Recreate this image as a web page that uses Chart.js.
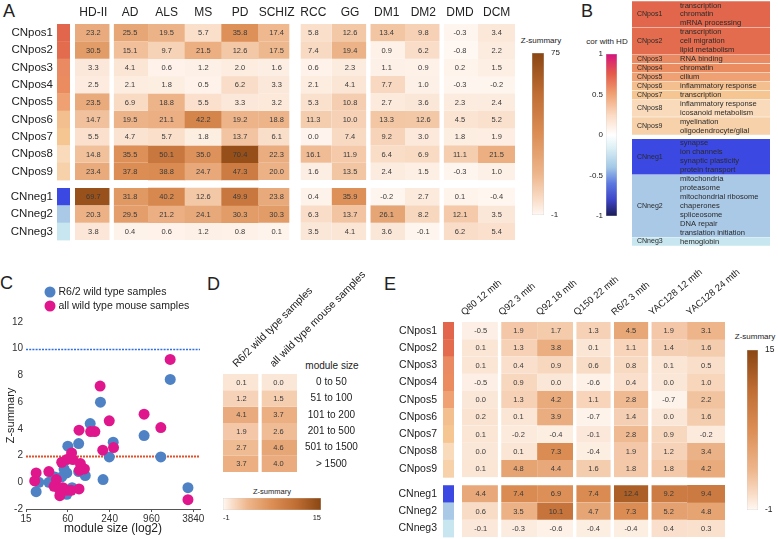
<!DOCTYPE html>
<html>
<head>
<meta charset="utf-8">
<title>Module preservation panels</title>
<script src="https://cdn.jsdelivr.net/npm/chart.js@4.4.1/dist/chart.umd.min.js"></script>
<style>
  body { margin: 0; background: #fff; }
  #fig { position: relative; width: 778px; height: 539px; overflow: hidden;
         font-family: "Liberation Sans", Arial, sans-serif; color: #222; }
  #fig canvas { position: absolute; }
  .txt { position: absolute; white-space: nowrap; line-height: 1; }
  .mid { transform: translate(-50%, -50%); }
  .letter { font-size: 18px; }
</style>
</head>
<body>
<div id="fig">
  <div class="txt letter" style="left:3px;top:2px">A</div>
  <div class="txt letter" style="left:581px;top:2px">B</div>
  <div class="txt letter" style="left:0px;top:274px">C</div>
  <div class="txt letter" style="left:207px;top:275px">D</div>
  <div class="txt letter" style="left:384px;top:275px">E</div>
  <div class="txt mid" style="left:541px;top:41px;font-size:8px">Z-summary</div>
  <div class="txt mid" style="left:607px;top:42px;font-size:8px">cor with HD</div>
  <div class="txt mid" style="left:332px;top:366px;font-size:10px">module size</div>
  <div class="txt mid" style="left:272px;top:492px;font-size:7.5px">Z-summary</div>
  <div class="txt mid" style="left:755px;top:337px;font-size:8px">Z-summary</div>

  <canvas id="heatA" width="520" height="245" style="left:0;top:0"></canvas>
  <canvas id="barA" width="40" height="178" style="left:532px;top:45px"></canvas>
  <canvas id="barB" width="39" height="178" style="left:578px;top:46px"></canvas>
  <canvas id="tableB" width="138" height="245" style="left:632px;top:1px"></canvas>
  <canvas id="scatterC" width="210" height="259" style="left:0;top:280px"></canvas>
  <canvas id="heatD" width="180" height="205" style="left:200px;top:270px"></canvas>
  <canvas id="barD" width="115" height="40" style="left:215px;top:485px"></canvas>
  <canvas id="heatE" width="385" height="277" style="left:380px;top:262px"></canvas>
  <canvas id="barE" width="31" height="176" style="left:747px;top:342px"></canvas>
</div>

<script>
Chart.defaults.font.family = '"Liberation Sans", Arial, sans-serif';
Chart.defaults.color = "#222";
Chart.defaults.animation = false;

// ═══════════════════════════════════════
// DATA
// ═══════════════════════════════════════
const modules = ["CNpos1", "CNpos2", "CNpos3", "CNpos4", "CNpos5", "CNpos6", "CNpos7", "CNpos8", "CNpos9",
                 "CNneg1", "CNneg2", "CNneg3"];
const moduleColors = ["#e2664b", "#e36c4e", "#e98a62", "#ea8c60", "#efa173", "#f4bf8e", "#f5c592", "#f9dbbb",
                      "#f6d1a9", "#3c48e2", "#a9c9e7", "#c8e6ef"];

// panel A: Z-summary per disease data set (rows follow `modules`)
const diseases = ["HD-II", "AD", "ALS", "MS", "PD", "SCHIZ", "RCC", "GG", "DM1", "DM2", "DMD", "DCM"];
const zHD2  = [23.2, 30.5, 3.3, 2.5, 23.5, 14.7, 5.5, 14.8, 23.4, 69.7, 20.3, 3.8];
const zAD   = [25.5, 15.1, 4.1, 2.1, 6.9, 19.5, 4.7, 35.5, 37.8, 31.8, 29.5, 0.4];
const zALS  = [19.5, 9.7, 0.6, 1.8, 18.8, 21.1, 5.7, 50.1, 38.8, 40.2, 21.2, 0.6];
const zMS   = [5.7, 21.5, 1.2, 0.5, 5.5, 42.2, 1.8, 35.0, 24.7, 12.6, 24.1, 1.2];
const zPD   = [35.8, 12.6, 2.0, 6.2, 3.3, 19.2, 13.7, 70.4, 47.3, 49.9, 30.3, 0.8];
const zSCHIZ = [17.4, 17.5, 1.6, 3.3, 3.2, 18.8, 6.1, 22.3, 20.0, 23.8, 30.3, 0.1];
const zRCC  = [5.8, 7.4, 0.6, 2.1, 5.3, 11.3, 0.0, 16.1, 1.6, 0.4, 6.3, 3.5];
const zGG   = [12.6, 19.4, 2.3, 4.1, 10.8, 10.0, 7.4, 11.9, 13.5, 35.9, 13.7, 4.1];
const zDM1  = [13.4, 0.9, 1.1, 7.7, 2.7, 13.3, 9.2, 6.4, 2.4, -0.2, 26.1, 3.6];
const zDM2  = [9.8, 6.2, 0.9, 1.0, 3.6, 12.6, 3.0, 6.9, 1.5, 2.7, 8.2, -0.1];
const zDMD  = [-0.3, -0.8, 0.2, -0.3, 2.3, 4.5, 1.8, 11.1, -0.3, 0.1, 12.1, 6.2];
const zDCM  = [3.4, 2.2, 1.5, -0.2, 2.4, 5.2, 1.9, 21.5, 1.0, -0.4, 3.5, 5.4];
const zRangeA = [-1, 75];

// panel B: enriched terms per module, correlation colour key
const moduleTerms = [
  ["transcription", "chromatin", "mRNA processing"],
  ["transcription", "cell migration", "lipid metabolism"],
  ["RNA binding"],
  ["chromatin"],
  ["cilium"],
  ["inflammatory response"],
  ["transcription"],
  ["inflammatory response", "icosanoid metabolism"],
  ["myelination", "oligodendrocyte/glial"],
  ["synapse", "ion channels", "synaptic plasticity", "protein transport"],
  ["mitochondria", "proteasome", "mitochondrial ribosome", "chaperones", "spliceosome", "DNA repair", "translation initiation"],
  ["hemoglobin"],
];
const corTicks = [-1, -0.5, 0, 0.5, 1];

// panel C: module size vs Z-summary
const r62Size = [21, 23, 32, 39, 49, 53, 58, 60, 58, 69, 86, 86, 107, 126, 177, 193, 237, 270, 752, 1310, 1790, 3220];
const r62Z    = [-0.7, 0.0, 0.0, 0.4, 0.4, 1.0, 0.7, 2.7, -0.9, -0.4, 2.9, 0.8, 0.5, 4.4, 6.0, 0.2, 1.9, 3.0, 3.5, 1.9, 7.7, -0.4];
const wtSize  = [20, 21, 32, 38, 41, 45, 46, 49, 51, 58, 58, 67, 68, 71, 87, 87, 88, 91, 104, 128, 147, 175, 191, 237, 273, 752, 1310, 1786, 3220];
const wtZ     = [0.1, 0.7, 0.8, -0.3, 0.2, -0.5, -1.0, 1.5, -0.4, 1.7, -0.6, -0.6, 2.2, 1.7, 3.9, -0.5, 0.9, 1.4, 1.0, 3.8, 3.8, 7.2, 2.4, 4.6, 2.6, 5.1, 4.1, 9.2, -1.3];
const sizeTicks = [15, 60, 240, 960, 3840];
const zThresholds = [10, 2];

// panel D: Z-summary by module size bin
const sampleSets = ["R6/2 wild type samples", "all wild type mouse samples"];
const sizeBins = ["0 to 50", "51 to 100", "101 to 200", "201 to 500", "501 to 1500", "> 1500"];
const zR62wt = [0.1, 1.2, 4.1, 1.9, 2.7, 3.7];
const zAllWt = [0.0, 1.5, 3.7, 2.6, 4.6, 4.0];
const zRangeD = [-1, 15];

// panel E: Z-summary in mouse models (rows follow `modules`)
const mouseModels = ["Q80 12 mth", "Q92 3 mth", "Q92 18 mth", "Q150 22 mth", "R6/2 3 mth", "YAC128 12 mth", "YAC128 24 mth"];
const zQ80m12  = [-0.5, 0.1, 0.1, -0.5, 0.0, 0.2, 0.1, 0.0, 0.1, 4.4, 0.6, -0.1];
const zQ92m3   = [1.9, 1.3, 0.4, 0.9, 1.3, 0.1, -0.2, 0.1, 4.8, 7.4, 3.5, -0.3];
const zQ92m18  = [1.7, 3.8, 0.9, 0.0, 4.2, 3.9, -0.4, 7.3, 4.4, 6.9, 10.1, -0.6];
const zQ150m22 = [1.3, 0.1, 0.6, -0.6, 1.1, -0.7, -0.1, -0.4, 1.6, 7.4, 4.7, -0.4];
const zR62m3   = [4.5, 1.1, 0.8, 0.4, 2.8, 1.4, 2.8, 1.9, 1.8, 12.4, 7.3, -0.4];
const zYACm12  = [1.9, 1.4, 0.1, 0.0, -0.7, 0.0, 0.9, 1.2, 1.8, 9.2, 5.2, 0.4];
const zYACm24  = [3.1, 1.6, 0.5, 1.0, 2.2, 1.6, -0.2, 3.4, 4.2, 9.4, 4.8, 0.3];
const zRangeE = [-1, 15];

// ═══════════════════════════════════════
// COLOURS
// ═══════════════════════════════════════
const heatStops = [[0, "#fff8f3"], [0.1, "#f9dcc6"], [0.25, "#eeb68c"], [0.5, "#dc8e55"], [0.75, "#bf6d33"], [1, "#8a4612"]];
const corStops = [[0, "#1b1b55"], [0.1, "#3d45c8"], [0.2, "#5c78e0"], [0.3, "#a3c8e6"], [0.42, "#dcf0f5"], [0.5, "#ffffff"],
                  [0.62, "#fbdcc4"], [0.75, "#f0a274"], [0.88, "#e45a4a"], [1, "#d6137f"]];

function hexRgb(h) { const n = parseInt(h.slice(1), 16); return [(n >> 16) & 255, (n >> 8) & 255, n & 255]; }
function ramp(stops, t) {
  t = Math.max(0, Math.min(1, t));
  for (let k = 1; k < stops.length; k++) {
    if (t <= stops[k][0]) {
      const [t0, c0] = stops[k - 1], [t1, c1] = stops[k];
      const f = (t - t0) / (t1 - t0), a = hexRgb(c0), b = hexRgb(c1);
      return `rgb(${a.map((x, i) => Math.round(x + (b[i] - x) * f)).join(",")})`;
    }
  }
  return stops[stops.length - 1][1];
}

// ═══════════════════════════════════════
// PLUGINS
// ═══════════════════════════════════════
const FONT = '"Liberation Sans", Arial, sans-serif';

// numbers printed in the middle of every heat cell
const cellValues = {
  id: "cellValues",
  afterDatasetsDraw(chart, args, opts) {
    const ctx = chart.ctx;
    ctx.save();
    ctx.font = `${opts.size}px ${FONT}`;
    ctx.fillStyle = opts.color;
    ctx.textAlign = "center";
    ctx.textBaseline = "middle";
    chart.data.datasets.forEach((ds, i) => {
      chart.getDatasetMeta(i).data.forEach((bar, j) => {
        ctx.fillText(ds.values[j].toFixed(1), bar.x, (bar.y + bar.base) / 2 + 0.5);
      });
    });
    ctx.restore();
  }
};

// coloured module strip left of the heat cells
const moduleStrip = {
  id: "moduleStrip",
  beforeDatasetsDraw(chart, args, opts) {
    if (!opts.colors) return;
    const { ctx, chartArea } = chart;
    chart.data.datasets.forEach((ds, i) => {
      const bar = chart.getDatasetMeta(i).data[0];
      const top = Math.min(bar.y, bar.base), bot = Math.max(bar.y, bar.base);
      ctx.fillStyle = opts.colors[i];
      ctx.fillRect(chartArea.left - opts.offset, top, opts.width, bot - top + 0.4);
    });
  }
};

// module names and GO terms in panel B
const termText = {
  id: "termText",
  afterDatasetsDraw(chart, args, opts) {
    const { ctx, chartArea } = chart;
    ctx.save();
    ctx.textBaseline = "middle";
    ctx.fillStyle = opts.color;
    chart.data.datasets.forEach((ds, i) => {
      const bar = chart.getDatasetMeta(i).data[0];
      const top = Math.min(bar.y, bar.base), bot = Math.max(bar.y, bar.base);
      const lh = (bot - top) / ds.terms.length;
      ctx.font = `${opts.nameSize}px ${FONT}`;
      ctx.fillText(ds.label, chartArea.left + opts.nameX, (top + bot) / 2);
      ctx.font = `${opts.termSize}px ${FONT}`;
      ds.terms.forEach((t, k) => ctx.fillText(t, chartArea.left + opts.termX, top + lh * (k + 0.5)));
    });
    ctx.restore();
  }
};

// dotted threshold lines in panel C
const refLines = {
  id: "refLines",
  beforeDatasetsDraw(chart, args, opts) {
    const { ctx, chartArea, scales: { y } } = chart;
    ctx.save();
    opts.lines.forEach(l => {
      const py = Math.round(y.getPixelForValue(l.value)) + 0.5;
      ctx.strokeStyle = l.color;
      ctx.lineWidth = l.width;
      ctx.setLineDash(l.dash);
      ctx.beginPath();
      ctx.moveTo(chartArea.left, py);
      ctx.lineTo(chartArea.right, py);
      ctx.stroke();
    });
    ctx.restore();
  }
};

// stacked dot legend above panel C
const dotLegend = {
  id: "dotLegend",
  afterDraw(chart, args, opts) {
    const ctx = chart.ctx;
    ctx.save();
    ctx.font = `${opts.size}px ${FONT}`;
    ctx.textBaseline = "middle";
    chart.data.datasets.forEach((ds, i) => {
      const cy = opts.y + i * opts.step;
      ctx.fillStyle = ds.backgroundColor;
      ctx.beginPath();
      ctx.arc(opts.x, cy, opts.radius, 0, Math.PI * 2);
      ctx.fill();
      ctx.fillStyle = "#222";
      ctx.fillText(ds.label, opts.x + opts.radius + 3, cy + 0.5);
    });
    ctx.restore();
  }
};

// ═══════════════════════════════════════
// BUILDERS
// ═══════════════════════════════════════
function heatmap(id, o) {
  const nRows = o.rows.length;
  const rowPos = i => i + (i >= o.split ? o.rowGap : 0);
  const yMax = nRows + (o.split < nRows ? o.rowGap : 0);
  const gap = j => o.colGaps[j] || 0;

  const datasets = o.rows.map((name, i) => {
    const vals = o.values.map(col => col[i]);
    return {
      label: name,
      values: vals,
      data: vals.map(() => [rowPos(i), rowPos(i) + 1]),
      backgroundColor: vals.map(v => ramp(heatStops, (v - o.range[0]) / (o.range[1] - o.range[0]))),
      borderColor: "#ffffff",
      borderWidth: ctx => ({ top: 0, bottom: 0,
        left: ctx.dataIndex > 0 ? gap(ctx.dataIndex - 1) / 2 : 0,
        right: gap(ctx.dataIndex) / 2 }),
      borderSkipped: false,
      inflateAmount: 0.3,
      grouped: false, barPercentage: 1, categoryPercentage: 1,
    };
  });

  return new Chart(document.getElementById(id), {
    type: "bar",
    data: { labels: o.cols, datasets },
    plugins: [cellValues, moduleStrip],
    options: {
      responsive: false, events: [],
      layout: { padding: o.pad },
      plugins: {
        legend: { display: false }, tooltip: { enabled: false },
        cellValues: { size: o.cellFont, color: "#3a3a3a" },
        moduleStrip: o.strip || {},
      },
      scales: {
        x: {
          position: "top",
          grid: { display: false, drawTicks: false }, border: { display: false },
          ticks: { autoSkip: false, font: { size: o.colFont }, color: "#222", padding: o.colPad,
                   minRotation: o.rot, maxRotation: o.rot, labelOffset: o.labelOffset || 0 },
          afterFit: s => { s.height = o.xH; s.paddingLeft = 0; s.paddingRight = 0; },
        },
        y: {
          type: "linear", position: o.yPos || "left", reverse: true, min: 0, max: yMax,
          grid: { display: false, drawTicks: false }, border: { display: false },
          ticks: { autoSkip: false, font: { size: o.rowFont }, color: "#222", padding: o.rowPad,
                   crossAlign: o.crossAlign || "near", callback: (v, k) => o.rows[k] },
          afterBuildTicks: s => { s.ticks = o.rows.map((r, i) => ({ value: rowPos(i) + 0.5 })); },
          afterFit: s => { s.width = o.yW; s.paddingTop = 0; s.paddingBottom = 0; },
        },
      },
    },
  });
}

function colorbar(id, o) {
  const horiz = !!o.horizontal;
  const valueAxis = horiz ? "x" : "y";
  const indexAxis = horiz ? "y" : "x";
  const fill = ctx => {
    const area = ctx.chart.chartArea;
    if (!area) return "#ffffff";
    const g = horiz
      ? ctx.chart.ctx.createLinearGradient(area.left, 0, area.right, 0)
      : ctx.chart.ctx.createLinearGradient(0, area.bottom, 0, area.top);
    o.stops.forEach(([t, c]) => g.addColorStop(t, c));
    return g;
  };
  return new Chart(document.getElementById(id), {
    type: "bar",
    data: { labels: [""], datasets: [{
      data: [[o.range[0], o.range[1]]], backgroundColor: fill,
      borderColor: "#c9c9c9", borderWidth: 0.6, borderSkipped: false,
      barPercentage: 1, categoryPercentage: 1,
    }] },
    options: {
      indexAxis, responsive: false, events: [],
      layout: { padding: o.pad },
      plugins: { legend: { display: false }, tooltip: { enabled: false } },
      scales: {
        [indexAxis]: { display: false },
        [valueAxis]: {
          type: "linear", position: o.axisPos, min: o.range[0], max: o.range[1],
          grid: { display: false, drawTicks: false }, border: { display: false },
          ticks: { font: { size: o.fontSize }, color: "#222", padding: o.tickPad, align: o.align || "center",
                   callback: v => String(v) },
          afterBuildTicks: s => { s.ticks = o.ticks.map(v => ({ value: v })); },
          afterFit: s => {
            if (horiz) { s.height = o.axisSize; s.paddingLeft = 0; s.paddingRight = 0; }
            else { s.width = o.axisSize; s.paddingTop = 0; s.paddingBottom = 0; }
          },
        },
      },
    },
  });
}

// ═══════════════════════════════════════
// PANEL A
// ═══════════════════════════════════════
heatmap("heatA", {
  cols: diseases, rows: modules,
  values: [zHD2, zAD, zALS, zMS, zPD, zSCHIZ, zRCC, zGG, zDM1, zDM2, zDMD, zDCM],
  range: zRangeA, split: 9, rowGap: 0.46,
  colGaps: [5, 0, 0, 0, 0, 12, 0, 5, 0, 5, 0],
  pad: { left: 0, right: 5, top: 0, bottom: 5 },
  yW: 75, xH: 24, rowFont: 11.5, rowPad: 22, colFont: 12, colPad: 4, rot: 0, cellFont: 7.5,
  strip: { colors: moduleColors, offset: 18, width: 13 },
});
colorbar("barA", { range: zRangeA, ticks: zRangeA, stops: heatStops, axisPos: "right", axisSize: 28,
                   pad: { left: 0, right: 0, top: 8, bottom: 8 }, fontSize: 8, tickPad: 7 });

// ═══════════════════════════════════════
// PANEL B
// ═══════════════════════════════════════
colorbar("barB", { range: [-1, 1], ticks: corTicks, stops: corStops, axisPos: "left", axisSize: 28,
                   pad: { left: 0, right: 0, top: 8, bottom: 8 }, fontSize: 8, tickPad: 3 });

(function () {
  const gapLines = 0.45;
  let start = 0;
  const datasets = modules.map((name, i) => {
    if (i === 9) start += gapLines;
    const n = moduleTerms[i].length;
    const ds = {
      label: name, terms: moduleTerms[i],
      data: [[start, start + n]],
      backgroundColor: moduleColors[i],
      borderColor: "rgba(255,255,255,0.55)",
      borderWidth: { top: 0.5, bottom: 0.5, left: 0, right: 0 }, borderSkipped: false,
      grouped: false, barPercentage: 1, categoryPercentage: 1,
    };
    start += n;
    return ds;
  });
  new Chart(document.getElementById("tableB"), {
    type: "bar",
    data: { labels: [""], datasets },
    plugins: [termText],
    options: {
      responsive: false, events: [],
      layout: { padding: 0 },
      plugins: { legend: { display: false }, tooltip: { enabled: false },
                 termText: { color: "#2a2a2a", nameSize: 7, termSize: 7.6, nameX: 5, termX: 48 } },
      scales: {
        x: { display: false },
        y: { display: false, type: "linear", reverse: true, min: 0, max: start },
      },
    },
  });
})();

// ═══════════════════════════════════════
// PANEL C
// ═══════════════════════════════════════
new Chart(document.getElementById("scatterC"), {
  type: "scatter",
  data: {
    datasets: [
      { label: "R6/2 wild type samples", data: r62Size.map((s, i) => ({ x: s, y: r62Z[i] })),
        backgroundColor: "#4f82c5", pointRadius: 5.5, borderWidth: 0, order: 1 },
      { label: "all wild type mouse samples", data: wtSize.map((s, i) => ({ x: s, y: wtZ[i] })),
        backgroundColor: "#e0178c", pointRadius: 5.5, borderWidth: 0, order: 0 },
    ],
  },
  plugins: [refLines, dotLegend],
  options: {
    responsive: false, events: [],
    layout: { padding: { left: 0, right: 10, top: 42, bottom: 0 } },
    plugins: {
      legend: { display: false }, tooltip: { enabled: false },
      refLines: { lines: [
        { value: zThresholds[0], color: "#2f6fe0", width: 1.4, dash: [2, 1.2] },
        { value: zThresholds[1], color: "#e0502a", width: 2, dash: [2, 1] },
      ] },
      dotLegend: { x: 50, y: 12, step: 14, radius: 5.5, size: 10.5 },
    },
    scales: {
      x: {
        type: "logarithmic", min: 15, max: 4800,
        grid: { display: true, drawOnChartArea: false, drawTicks: true, tickLength: 3, color: "#555" },
        border: { display: true, color: "#555", width: 1 },
        ticks: { font: { size: 10 }, color: "#333", padding: 1, autoSkip: false, maxRotation: 0,
                 callback: v => String(v) },
        afterBuildTicks: s => { s.ticks = sizeTicks.map(v => ({ value: v })); },
        title: { display: true, text: "module size (log2)", font: { size: 12 }, color: "#222",
                 padding: { top: 0, bottom: 3 } },
        afterFit: s => { s.height = 30; s.paddingLeft = 0; s.paddingRight = 0; },
      },
      y: {
        min: -2, max: 12,
        grid: { display: false, drawTicks: false }, border: { display: false },
        ticks: { stepSize: 2, font: { size: 10 }, color: "#333", padding: 3 },
        title: { display: true, text: "Z-summary", font: { size: 11 }, color: "#222",
                 padding: { top: 4, bottom: 0 } },
        afterFit: s => { s.width = 26; s.paddingTop = 0; s.paddingBottom = 0; },
      },
    },
  },
});

// ═══════════════════════════════════════
// PANEL D
// ═══════════════════════════════════════
heatmap("heatD", {
  cols: sampleSets, rows: sizeBins,
  values: [zR62wt, zAllWt],
  range: zRangeD, split: sizeBins.length, rowGap: 0,
  colGaps: [4],
  pad: { left: 23, right: 13, top: 0, bottom: 3 },
  yPos: "right", crossAlign: "center",
  yW: 70, xH: 104, rowFont: 10, rowPad: 8, colFont: 10.5, colPad: 4, rot: 45, labelOffset: 2, cellFont: 7.5,
});
colorbar("barD", { horizontal: true, range: zRangeD, ticks: zRangeD, stops: heatStops, axisPos: "bottom",
                   axisSize: 15, align: "inner", pad: { left: 8, right: 9, top: 13, bottom: 0 },
                   fontSize: 7.5, tickPad: 3 });

// ═══════════════════════════════════════
// PANEL E
// ═══════════════════════════════════════
heatmap("heatE", {
  cols: mouseModels, rows: modules,
  values: [zQ80m12, zQ92m3, zQ92m18, zQ150m22, zR62m3, zYACm12, zYACm24],
  range: zRangeE, split: 9, rowGap: 0.46,
  colGaps: [4, 0, 4, 4, 4, 0],
  pad: { left: 0, right: 40, top: 0, bottom: 2 },
  yW: 82, xH: 60, rowFont: 10.5, rowPad: 25, colFont: 9.5, colPad: 4, rot: 40, labelOffset: -11, cellFont: 7.5,
  strip: { colors: moduleColors, offset: 19, width: 11 },
});
colorbar("barE", { range: zRangeE, ticks: zRangeE, stops: heatStops, axisPos: "right", axisSize: 20,
                   pad: { left: 0, right: 0, top: 8, bottom: 8 }, fontSize: 8.5, tickPad: 7 });
</script>
</body>
</html>
